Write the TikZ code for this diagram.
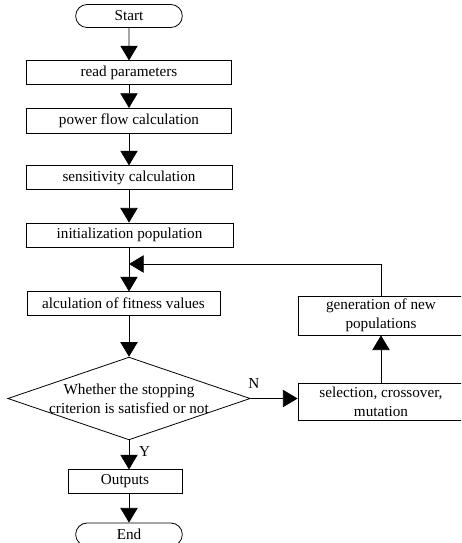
\documentclass[tikz,border=0pt]{standalone}
\usepackage{fontspec}
\setmainfont{Liberation Serif}
\usepackage{tikz}
\usetikzlibrary{shapes,arrows,positioning,calc,arrows.meta}

\begin{document}
\begin{tikzpicture}[x=0.75pt, y=-0.75pt,
    every node/.style={font=\fontsize{11.4}{14}\selectfont},
    box/.style={draw, line width=0.6pt, inner sep=0pt, minimum height=17.5pt, align=center},
    term/.style={draw, line width=0.6pt, rounded rectangle, inner sep=0pt, minimum width=80pt, minimum height=17.25pt},
    judgebox/.style={draw, line width=0.6pt, diamond, aspect=2.93, inner sep=-0.3pt, align=center},
    arr/.style={line width=0.6pt, -{Triangle[length=11pt, width=13pt]}}]
    \useasboundingbox (0,0) rectangle (461,543);
    \clip (0,0) rectangle (461,543);

    % Main column
    \node (start) at (129,16) [term] {Start};
    \node (read) at (129,72.5) [box, minimum width=153.8pt] {read parameters};
    \node (flow) at (129,121) [box, minimum width=153.8pt, minimum height=19pt] {power flow calculation};
    \node (sens) at (129,177.5) [box, minimum width=154.5pt] {sensitivity calculation};
    \node (init) at (129.5,235) [box, minimum width=155.3pt, minimum height=18pt] {initialization population};
    \node (fit) at (123.5,303.5) [box, minimum width=144.8pt] {alculation of fitness values};
    \node (judge) at (129,398.5) [judgebox] {Whether the stopping\\criterion is satisfied or not};
    \node (out) at (125,481.5) [box, minimum width=85.5pt] {Outputs};
    \node (finish) at (129,534.5) [term] {End};

    % Right column
    \node (sel) at (381,401.5) [box, minimum width=124.5pt, minimum height=27.75pt] {selection, crossover,\\mutation};
    \node (gen) at (381,315.5) [box, minimum width=124.5pt, minimum height=29.25pt] {generation of new\\populations};
    \coordinate (loop) at (129,264);

    % Arrows
    \draw[arr] (start) -- (read);
    \draw[arr] (read) -- (flow);
    \draw[arr] (flow) -- (sens);
    \draw[arr] (sens.south) -- (sens.south |- init.north);
    \draw[arr] (loop |- init.south) -- (loop |- fit.north);
    \draw[arr] (judge.north |- fit.south) -- (judge.north);
    \draw[arr] (judge.south) -- (judge.south |- out.north) node[pos=0.37, right=4pt] {Y};
    \draw[arr] (out.south -| finish.north) -- (finish.north);
    \draw[arr] (judge.east) -- (judge.east -| sel.west) node[pos=0.07, above=4pt] {N};
    \draw[arr] (sel) -- (gen);
    \draw[arr] (gen.north) |- (loop);

\end{tikzpicture}
\end{document}
